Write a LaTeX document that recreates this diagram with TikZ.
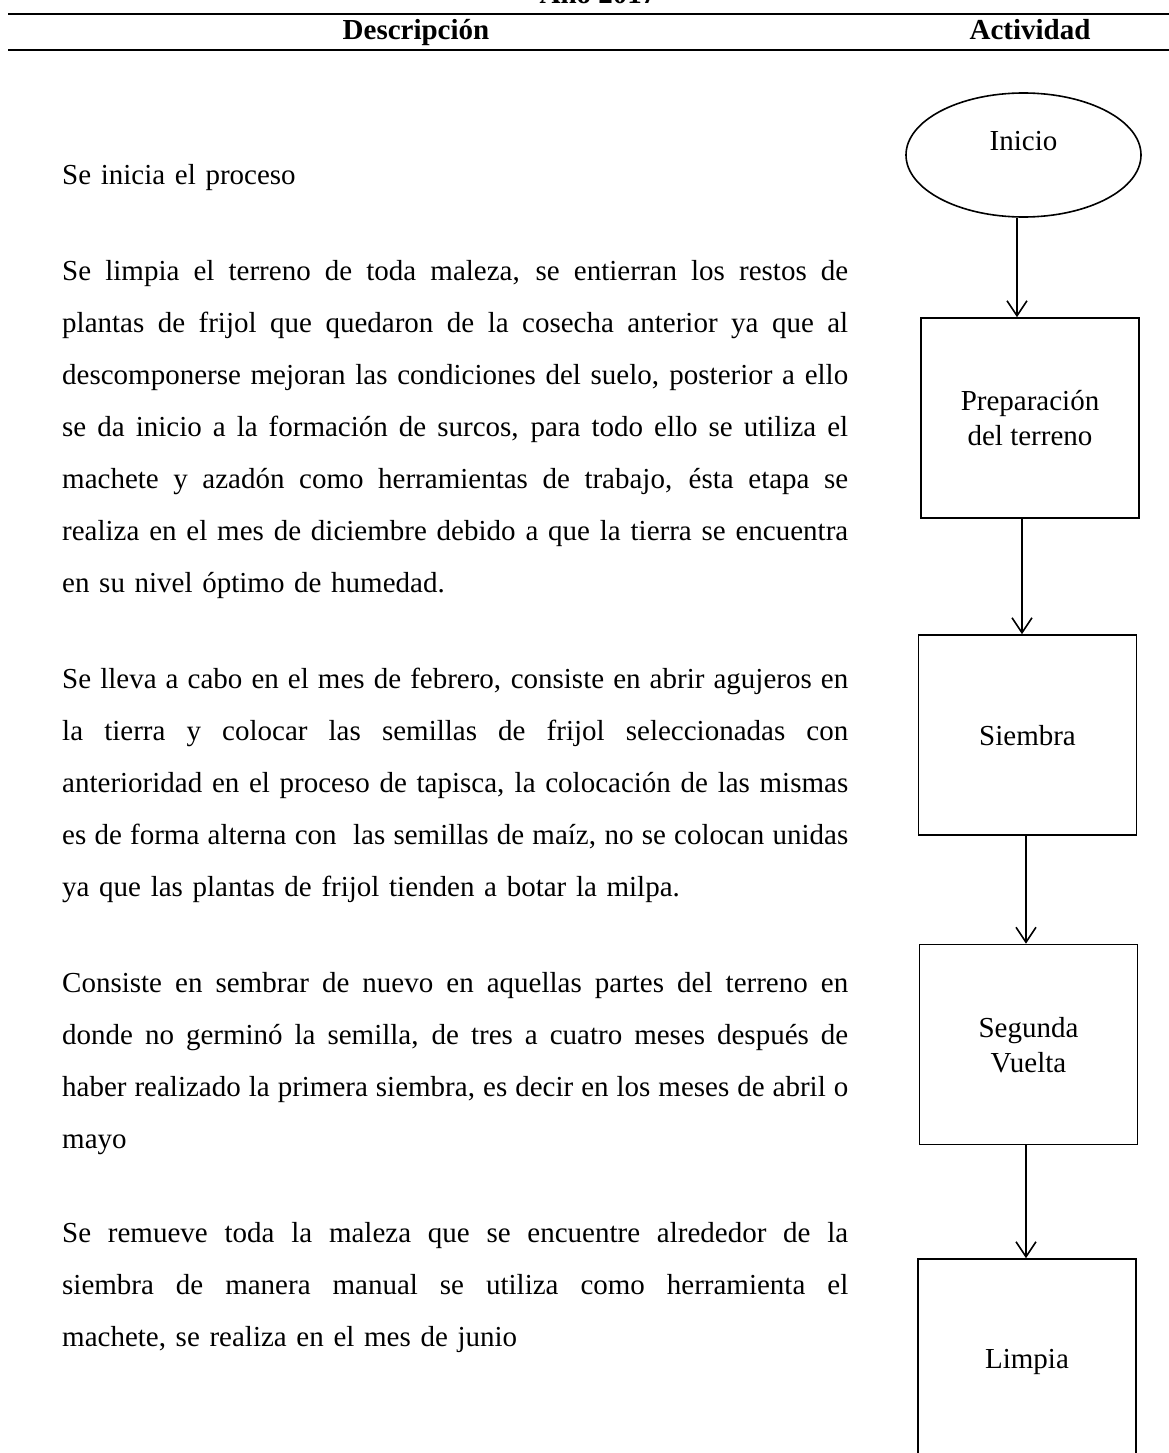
\documentclass[tikz,border=0pt]{standalone}
\usepackage{fontspec}
\setmainfont{Liberation Serif}
\usetikzlibrary{arrows.meta,shapes.geometric}
\newcommand{\jline}[1]{{\spaceskip=0pt\xspaceskip=0pt\makebox[786pt][s]{#1}}}
\begin{document}
\begin{tikzpicture}[x=1pt,y=-1pt,
  bodytext/.style={anchor=north west,inner sep=0pt,text width=786pt,align=left,
    font=\fontsize{29}{52}\selectfont},
  headtext/.style={anchor=base,inner sep=0pt,font=\bfseries\fontsize{29}{33}\selectfont},
  headrule/.style={line width=2.4pt},
  flowbox/.style={draw,line width=1.6pt,minimum width=218pt,minimum height=200pt,
    inner sep=0pt,align=center,text depth=0pt,font=\fontsize{29}{35}\selectfont},
  startshape/.style={draw,ellipse,line width=1.6pt,minimum width=235pt,minimum height=124pt,inner sep=0pt},
  flowlabel/.style={anchor=base,inner sep=0pt,font=\fontsize{29}{33}\selectfont},
  flowarrow/.style={line width=1.6pt,-{Straight Barb[length=15pt,width=20pt]}}
]
\useasboundingbox (0,0) rectangle (1169,1453);
\clip (0,0) rectangle (1169,1453);

% header
\node[headtext] (year) at (598,4) {Año 2017};
\draw[headrule] (8,14) -- (1169,14);
\node[headtext] (desc) at (416,40) {Descripción};
\node[headtext] (activ) at (1030,40) {Actividad};
\draw[headrule] (8,50) -- (1169,50);

% description paragraphs (baseline minus strut height 36.4)
\node[bodytext] (p1) at (62,184-36.4) {\strut Se inicia el proceso};
\node[bodytext] (p2) at (62,280-36.4) {\strut
\jline{Se limpia el terreno de toda maleza, se entierran los restos de}\\
\jline{plantas de frijol que quedaron de la cosecha anterior ya que al}\\
\jline{descomponerse mejoran las condiciones del suelo, posterior a ello}\\
\jline{se da inicio a la formación de surcos, para todo ello se utiliza el}\\
\jline{machete y azadón como herramientas de trabajo, ésta etapa se}\\
\jline{realiza en el mes de diciembre debido a que la tierra se encuentra}\\
en su nivel óptimo de humedad.};
\node[bodytext] (p3) at (62,688-36.4) {\strut
\jline{Se lleva a cabo en el mes de febrero, consiste en abrir agujeros en}\\
\jline{la tierra y colocar las semillas de frijol seleccionadas con}\\
\jline{anterioridad en el proceso de tapisca, la colocación de las mismas}\\
\jline{es de forma alterna con\ \ las semillas de maíz, no se colocan unidas}\\
ya que las plantas de frijol tienden a botar la milpa.};
\node[bodytext] (p4) at (62,992-36.4) {\strut
\jline{Consiste en sembrar de nuevo en aquellas partes del terreno en}\\
\jline{donde no germinó la semilla, de tres a cuatro meses después de}\\
\jline{haber realizado la primera siembra, es decir en los meses de abril o}\\
mayo};
\node[bodytext] (p5) at (62,1242-36.4) {\strut
\jline{Se remueve toda la maleza que se encuentre alrededor de la}\\
\jline{siembra de manera manual se utiliza como herramienta el}\\
machete, se realiza en el mes de junio};

% flow chart
\node[startshape] (inicio) at (1023.5,155) {};
\node[flowlabel] (iniciotxt) at (1023.5,150) {Inicio};
\node[flowbox] (prep) at (1030,418) {Preparación\\del terreno};
\node[flowbox] (siembra) at (1027.5,735) {Siembra};
\node[flowbox] (segunda) at (1028.5,1044.5) {Segunda\\Vuelta};
\node[flowbox] (limpia) at (1027,1359) {Limpia};

\draw[flowarrow] ([xshift=-6.5pt]inicio.south) -- ([xshift=-6.5pt]inicio.south |- prep.north);
\draw[flowarrow] ([xshift=-8pt]prep.south) -- ([xshift=-8pt]prep.south |- siembra.north);
\draw[flowarrow] ([xshift=-1.5pt]siembra.south) -- ([xshift=-1.5pt]siembra.south |- segunda.north);
\draw[flowarrow] ([xshift=-2.5pt]segunda.south) -- ([xshift=-2.5pt]segunda.south |- limpia.north);
\end{tikzpicture}
\end{document}
